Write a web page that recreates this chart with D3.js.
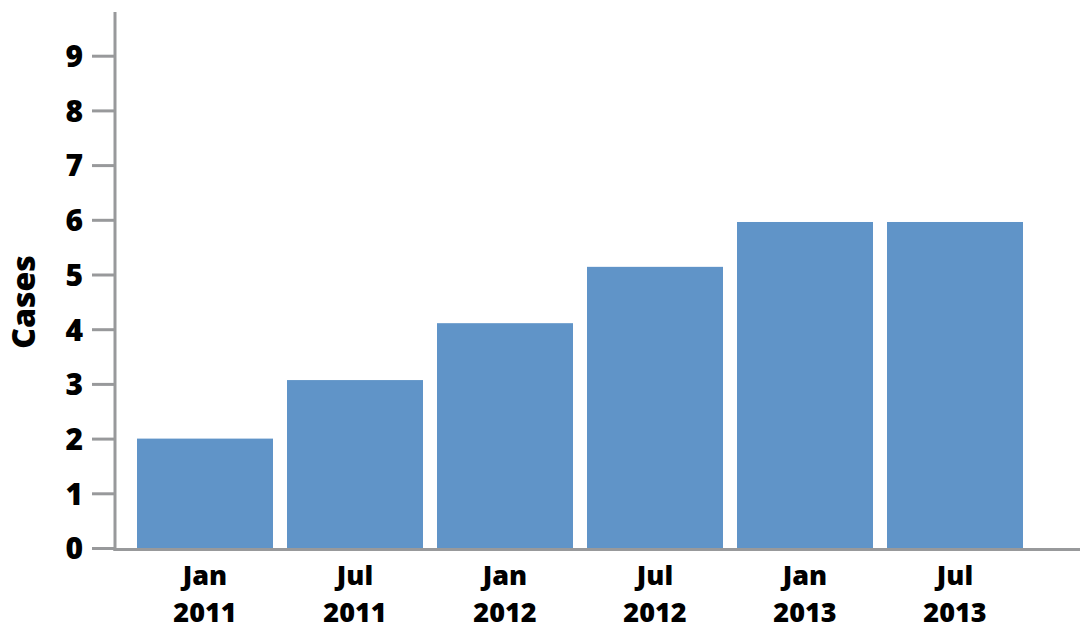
<!DOCTYPE html>
<html>
<head>
<meta charset="utf-8">
<script src="https://cdn.jsdelivr.net/npm/d3@7"></script>
<style>
  body { margin: 0; background: #fff; }
  text { font-family: "Open Sans", sans-serif; font-weight: 800; fill: #000; }
</style>
</head>
<body>
<svg width="1082" height="630"></svg>
<script>
// bar data
var periods = ["Jan 2011", "Jul 2011", "Jan 2012", "Jul 2012", "Jan 2013", "Jul 2013"];
var cases = [2.0, 3.07, 4.11, 5.14, 5.96, 5.96];
var yTicks = [0, 1, 2, 3, 4, 5, 6, 7, 8, 9];

var svg = d3.select("svg");
var axisColor = "#98999b";

var x = d3.scaleBand()
    .domain(periods)
    .range([130, 1030])
    .paddingInner(14 / 150)
    .paddingOuter(7 / 150);

var y = d3.scaleLinear()
    .domain([0, 9])
    .range([548, 55.7]);

// bars
svg.selectAll("rect.bar")
    .data(cases)
    .enter().append("rect")
    .attr("class", "bar")
    .attr("x", function(d, i) { return x(periods[i]); })
    .attr("y", function(d) { return y(d); })
    .attr("width", x.bandwidth())
    .attr("height", function(d) { return y(0) - y(d); })
    .attr("fill", "#6094c8");

// y axis
var yAxis = svg.append("g")
    .attr("transform", "translate(115,0)")
    .call(d3.axisLeft(y).tickValues(yTicks).tickSize(23).tickPadding(9).tickFormat(d3.format("d")));
yAxis.select(".domain").remove();
yAxis.selectAll(".tick line").attr("stroke", axisColor).attr("stroke-width", 3);
yAxis.selectAll(".tick text").style("font-size", "30px").attr("fill", "#000").attr("dy", "0.36em");

svg.append("line")
    .attr("x1", 115).attr("x2", 115)
    .attr("y1", 12).attr("y2", 551)
    .attr("stroke", axisColor).attr("stroke-width", 3);

// x axis
svg.append("line")
    .attr("x1", 113.5).attr("x2", 1080)
    .attr("y1", 549.5).attr("y2", 549.5)
    .attr("stroke", axisColor).attr("stroke-width", 3);

// two-line period labels
var xl = svg.selectAll("text.xlab")
    .data(periods)
    .enter().append("text")
    .attr("class", "xlab")
    .attr("text-anchor", "middle")
    .style("font-size", "27px")
    .attr("transform", function(d) { return "translate(" + (x(d) + x.bandwidth() / 2) + ",0)"; });
xl.append("tspan").attr("x", 0).attr("y", 585).text(function(d) { return d.split(" ")[0]; });
xl.append("tspan").attr("x", 0).attr("y", 622).text(function(d) { return d.split(" ")[1]; });

// y title
svg.append("text")
    .attr("transform", "translate(35,302) rotate(-90)")
    .attr("text-anchor", "middle")
    .style("font-size", "32px")
    .text("Cases");
</script>
</body>
</html>
